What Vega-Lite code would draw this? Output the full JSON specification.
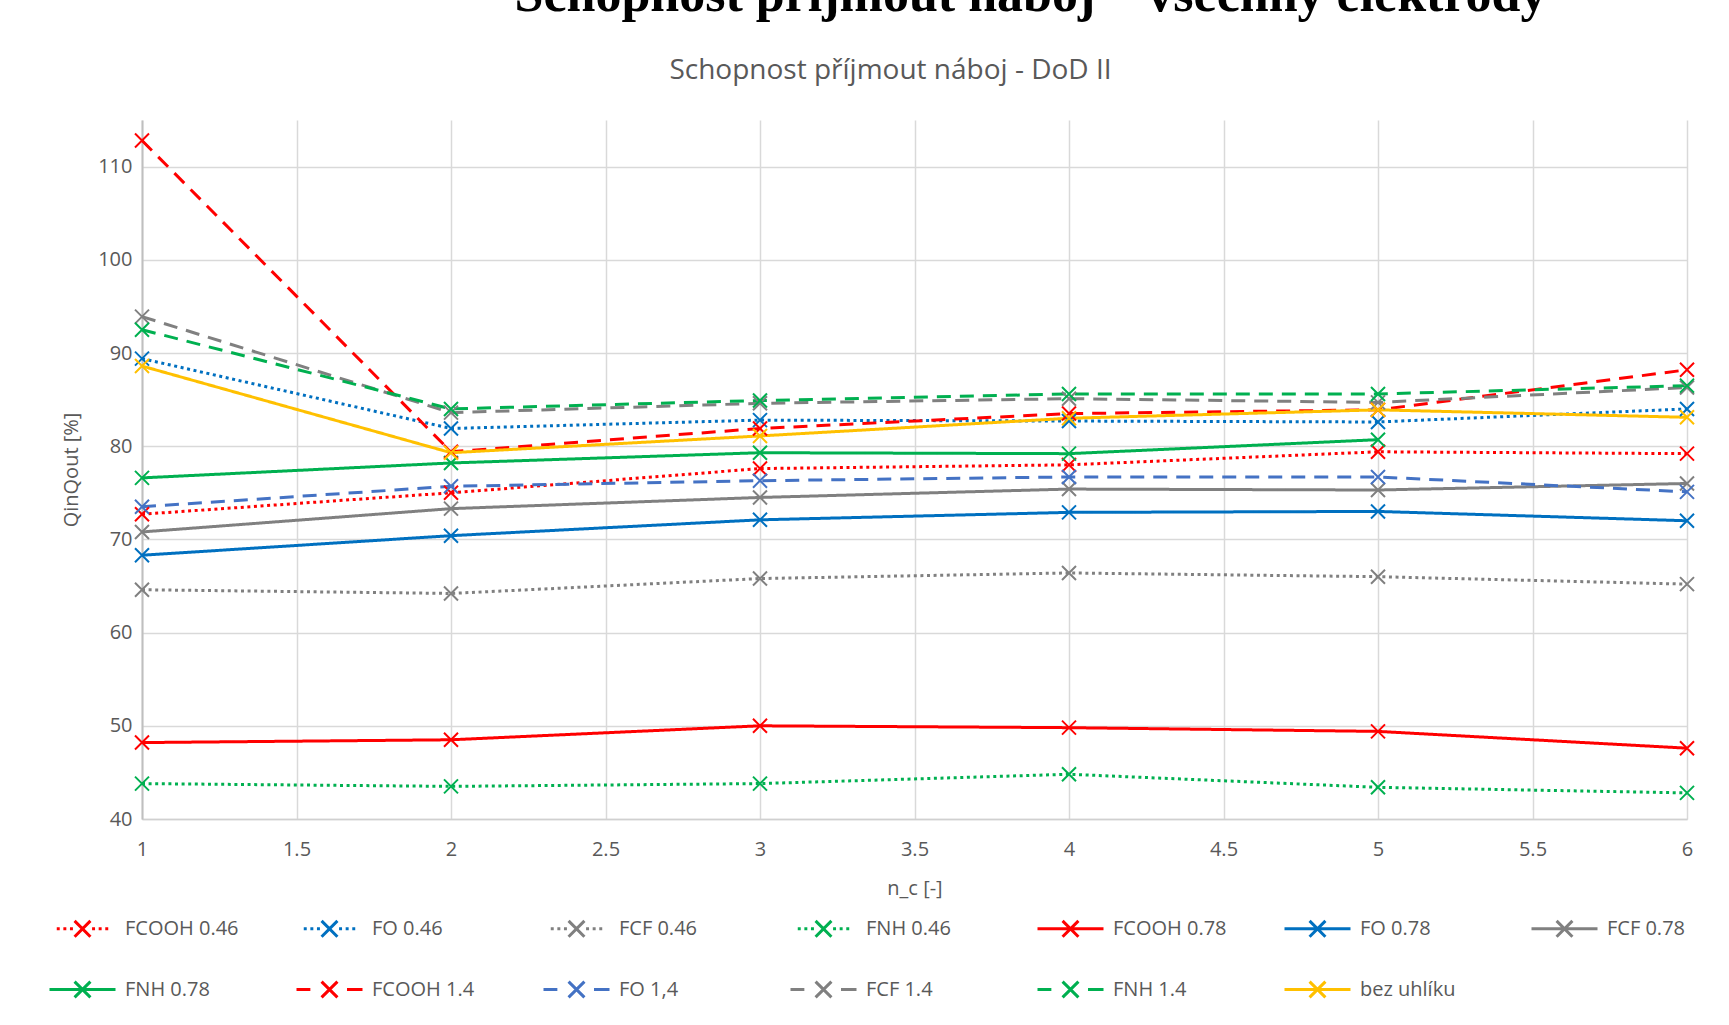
{
  "$schema": "https://vega.github.io/schema/vega-lite/v6.json",
  "autosize": {"type": "none"},
  "width": 1545,
  "height": 699,
  "padding": {"left": 142, "top": 120, "right": 42, "bottom": 206},
  "background": "white",
  "title": {
    "text": "Schopnost přijmout náboj – všechny elektrody",
    "font": "Liberation Serif",
    "fontWeight": "bold",
    "fontSize": 52,
    "color": "#000000",
    "anchor": "middle",
    "frame": "group",
    "dx": 116,
    "dy": 44,
    "offset": 26,
    "baseline": "bottom"
  },
  "config": {"view": {"stroke": null}, "font": "Open Sans"},
  "data": {
    "values": [
      {"s": "FCOOH 0.46", "n": 1, "q": 72.7}, {"s": "FCOOH 0.46", "n": 2, "q": 75.0}, {"s": "FCOOH 0.46", "n": 3, "q": 77.6}, {"s": "FCOOH 0.46", "n": 4, "q": 78.0}, {"s": "FCOOH 0.46", "n": 5, "q": 79.4}, {"s": "FCOOH 0.46", "n": 6, "q": 79.2},
      {"s": "FO 0.46", "n": 1, "q": 89.4}, {"s": "FO 0.46", "n": 2, "q": 81.9}, {"s": "FO 0.46", "n": 3, "q": 82.8}, {"s": "FO 0.46", "n": 4, "q": 82.7}, {"s": "FO 0.46", "n": 5, "q": 82.6}, {"s": "FO 0.46", "n": 6, "q": 84.0},
      {"s": "FCF 0.46", "n": 1, "q": 64.6}, {"s": "FCF 0.46", "n": 2, "q": 64.2}, {"s": "FCF 0.46", "n": 3, "q": 65.8}, {"s": "FCF 0.46", "n": 4, "q": 66.4}, {"s": "FCF 0.46", "n": 5, "q": 66.0}, {"s": "FCF 0.46", "n": 6, "q": 65.2},
      {"s": "FNH 0.46", "n": 1, "q": 43.8}, {"s": "FNH 0.46", "n": 2, "q": 43.5}, {"s": "FNH 0.46", "n": 3, "q": 43.8}, {"s": "FNH 0.46", "n": 4, "q": 44.8}, {"s": "FNH 0.46", "n": 5, "q": 43.4}, {"s": "FNH 0.46", "n": 6, "q": 42.8},
      {"s": "FCOOH 0.78", "n": 1, "q": 48.2}, {"s": "FCOOH 0.78", "n": 2, "q": 48.5}, {"s": "FCOOH 0.78", "n": 3, "q": 50.0}, {"s": "FCOOH 0.78", "n": 4, "q": 49.8}, {"s": "FCOOH 0.78", "n": 5, "q": 49.4}, {"s": "FCOOH 0.78", "n": 6, "q": 47.6},
      {"s": "FO 0.78", "n": 1, "q": 68.3}, {"s": "FO 0.78", "n": 2, "q": 70.4}, {"s": "FO 0.78", "n": 3, "q": 72.1}, {"s": "FO 0.78", "n": 4, "q": 72.9}, {"s": "FO 0.78", "n": 5, "q": 73.0}, {"s": "FO 0.78", "n": 6, "q": 72.0},
      {"s": "FCF 0.78", "n": 1, "q": 70.8}, {"s": "FCF 0.78", "n": 2, "q": 73.3}, {"s": "FCF 0.78", "n": 3, "q": 74.5}, {"s": "FCF 0.78", "n": 4, "q": 75.4}, {"s": "FCF 0.78", "n": 5, "q": 75.3}, {"s": "FCF 0.78", "n": 6, "q": 76.0},
      {"s": "FNH 0.78", "n": 1, "q": 76.6}, {"s": "FNH 0.78", "n": 2, "q": 78.2}, {"s": "FNH 0.78", "n": 3, "q": 79.3}, {"s": "FNH 0.78", "n": 4, "q": 79.2}, {"s": "FNH 0.78", "n": 5, "q": 80.7},
      {"s": "FCOOH 1.4", "n": 1, "q": 112.8}, {"s": "FCOOH 1.4", "n": 2, "q": 79.4}, {"s": "FCOOH 1.4", "n": 3, "q": 81.9}, {"s": "FCOOH 1.4", "n": 4, "q": 83.5}, {"s": "FCOOH 1.4", "n": 5, "q": 83.9}, {"s": "FCOOH 1.4", "n": 6, "q": 88.2},
      {"s": "FO 1,4", "n": 1, "q": 73.5}, {"s": "FO 1,4", "n": 2, "q": 75.7}, {"s": "FO 1,4", "n": 3, "q": 76.3}, {"s": "FO 1,4", "n": 4, "q": 76.7}, {"s": "FO 1,4", "n": 5, "q": 76.7}, {"s": "FO 1,4", "n": 6, "q": 75.1},
      {"s": "FCF 1.4", "n": 1, "q": 93.9}, {"s": "FCF 1.4", "n": 2, "q": 83.6}, {"s": "FCF 1.4", "n": 3, "q": 84.6}, {"s": "FCF 1.4", "n": 4, "q": 85.1}, {"s": "FCF 1.4", "n": 5, "q": 84.7}, {"s": "FCF 1.4", "n": 6, "q": 86.3},
      {"s": "FNH 1.4", "n": 1, "q": 92.5}, {"s": "FNH 1.4", "n": 2, "q": 84.0}, {"s": "FNH 1.4", "n": 3, "q": 84.9}, {"s": "FNH 1.4", "n": 4, "q": 85.6}, {"s": "FNH 1.4", "n": 5, "q": 85.6}, {"s": "FNH 1.4", "n": 6, "q": 86.5},
      {"s": "bez uhlíku", "n": 1, "q": 88.6}, {"s": "bez uhlíku", "n": 2, "q": 79.3}, {"s": "bez uhlíku", "n": 3, "q": 81.1}, {"s": "bez uhlíku", "n": 4, "q": 83.0}, {"s": "bez uhlíku", "n": 5, "q": 83.9}, {"s": "bez uhlíku", "n": 6, "q": 83.1}
    ]
  },
  "layer": [
    {
      "mark": {"type": "line", "strokeWidth": 3},
      "encoding": {
        "x": {
          "field": "n", "type": "quantitative",
          "scale": {"domain": [1, 6], "nice": false, "zero": false},
          "axis": {
            "orient": "bottom",
            "values": [1, 1.5, 2, 2.5, 3, 3.5, 4, 4.5, 5, 5.5, 6],
            "format": "~g",
            "grid": true, "gridColor": "#D9D9D9", "gridWidth": 1.5,
            "domainColor": "#D0D0D0", "domainWidth": 1.5,
            "ticks": false, "labelPadding": 20, "labelFlush": false,
            "labelFont": "Open Sans", "labelFontSize": 20, "labelColor": "#595959",
            "title": "n_c [-]", "titleFont": "Open Sans", "titleFontSize": 20,
            "titleFontWeight": "normal", "titleColor": "#595959", "titlePadding": 19
          }
        },
        "y": {
          "field": "q", "type": "quantitative",
          "scale": {"domain": [40, 115], "nice": false, "zero": false},
          "axis": {
            "values": [40, 50, 60, 70, 80, 90, 100, 110],
            "grid": true, "gridColor": "#D9D9D9", "gridWidth": 1.5,
            "domainColor": "#BFBFBF", "domainWidth": 2,
            "ticks": false, "labelPadding": 10,
            "labelFont": "Open Sans", "labelFontSize": 20, "labelColor": "#595959",
            "title": "QinQout [%]", "titleFont": "Open Sans", "titleFontSize": 20,
            "titleFontWeight": "normal", "titleColor": "#595959", "titlePadding": 16
          }
        },
        "color": {
          "field": "s", "type": "nominal",
          "scale": {
            "domain": ["FCOOH 0.46", "FO 0.46", "FCF 0.46", "FNH 0.46", "FCOOH 0.78", "FO 0.78", "FCF 0.78", "FNH 0.78", "FCOOH 1.4", "FO 1,4", "FCF 1.4", "FNH 1.4", "bez uhlíku"],
            "range": ["#FF0000", "#0070C0", "#808080", "#00B050", "#FF0000", "#0070C0", "#808080", "#00B050", "#FF0000", "#4472C4", "#808080", "#00B050", "#FFC000"]
          },
          "legend": {
            "orient": "none", "legendX": -94, "legendY": 774,
            "direction": "horizontal", "columns": 7, "gridAlign": "all",
            "columnPadding": 51, "rowPadding": 12,
            "symbolSize": 4356, "symbolStrokeWidth": 3,
            "labelFont": "Open Sans", "labelFontSize": 20, "labelColor": "#595959",
            "labelOffset": 8, "labelLimit": 300, "title": null,
            "encode": {
              "symbols": {
                "update": {
                  "shape": {"signal": "test(/0\\.46/, datum.value) ? 'M-0.78,0H-0.69M-0.58,0H-0.49M-0.38,0H-0.29M0.29,0H0.38M0.49,0H0.58M0.69,0H0.78M-0.24,-0.24L0.24,0.24M-0.24,0.24L0.24,-0.24' : test(/1[.,]4/, datum.value) ? 'M-1,0H-0.58M0.53,0H1M-0.24,-0.24L0.24,0.24M-0.24,0.24L0.24,-0.24' : 'M-1,0H1M-0.24,-0.24L0.24,0.24M-0.24,0.24L0.24,-0.24'"},
                  "fill": {"value": "transparent"},
                  "opacity": {"value": 1}
                }
              }
            }
          }
        },
        "strokeDash": {
          "condition": [
            {"test": "test(/0\\.46/, datum.s)", "value": [3, 3.6]},
            {"test": "test(/1[.,]4/, datum.s)", "value": [14, 9]}
          ],
          "value": [1, 0]
        }
      }
    },
    {
      "mark": {"type": "point", "shape": "M-1,-1L1,1M-1,1L1,-1", "filled": false, "size": 196, "strokeWidth": 2, "opacity": 1},
      "encoding": {
        "x": {
          "field": "n", "type": "quantitative",
          "axis": {
            "orient": "top", "title": "Schopnost příjmout náboj - DoD II",
            "labels": false, "ticks": false, "domain": false, "grid": false,
            "titleFont": "Open Sans", "titleFontSize": 28, "titleFontWeight": "normal",
            "titleColor": "#595959", "titlePadding": 36, "titleX": 748
          }
        },
        "y": {"field": "q", "type": "quantitative"},
        "color": {"field": "s", "type": "nominal"}
      }
    }
  ],
  "resolve": {"axis": {"x": "independent"}}
}
